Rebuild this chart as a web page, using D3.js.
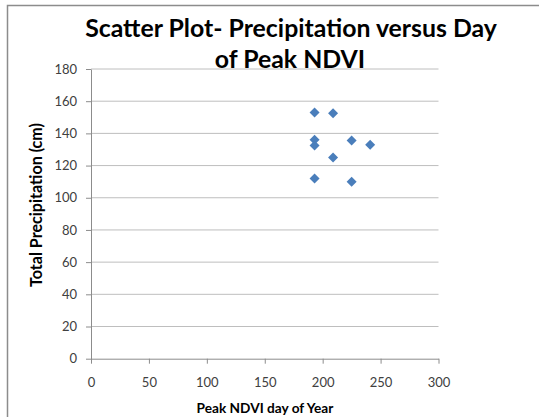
<!DOCTYPE html>
<html>
<head>
<meta charset="utf-8">
<script src="https://cdn.jsdelivr.net/npm/d3@7"></script>
<style>
  body { margin: 0; background: #fff; }
  svg { display: block; }
</style>
</head>
<body>
<div class="chart"></div>
<script>
// peak NDVI day (16-day composites) vs total precipitation
var peakDay = [193, 209, 193, 193, 225, 241, 209, 193, 225];
var precip = [153, 152.5, 136, 132.5, 135.5, 133, 125, 112, 110];

var xTicks = [0, 50, 100, 150, 200, 250, 300];
var yTicks = [0, 20, 40, 60, 80, 100, 120, 140, 160, 180];

var titleLines = ["Scatter Plot- Precipitation versus Day", "of Peak NDVI"];
var xTitle = "Peak NDVI day of Year";
var yTitle = "Total Precipitation (cm)";

var width = 539;
var height = 417;
var font = "Lato, Calibri, 'Open Sans', sans-serif";

var plotLeft = 91, plotRight = 438.5, plotTop = 69, plotBottom = 358.7;

var svg = d3.select(".chart").append("svg")
	.attr("width", width)
	.attr("height", height);

// outer chart frame (only top and left show in the crop)
svg.append("path")
	.attr("d", "M7.5," + height + "V5.5H" + width)
	.attr("fill", "none")
	.attr("stroke", "#8c8c8c")
	.attr("stroke-width", 1.5);

var x = d3.scaleLinear().domain([0, 300]).range([plotLeft, plotRight]);
var y = d3.scaleLinear().domain([0, 180]).range([plotBottom, plotTop]);

// horizontal gridlines
svg.append("g")
	.selectAll("line")
	.data(yTicks.slice(1))
	.enter().append("line")
	.attr("x1", plotLeft)
	.attr("x2", plotRight)
	.attr("y1", function(d) { return y(d); })
	.attr("y2", function(d) { return y(d); })
	.attr("stroke", "#bebebe")
	.attr("stroke-width", 1);

var yAxis = svg.append("g")
	.attr("transform", "translate(" + plotLeft + ",0)")
	.call(d3.axisLeft(y).tickValues(yTicks).tickSizeInner(5).tickSizeOuter(0).tickPadding(9));

var xAxis = svg.append("g")
	.attr("transform", "translate(0," + plotBottom + ")")
	.call(d3.axisBottom(x).tickValues(xTicks).tickSizeInner(5).tickSizeOuter(0).tickPadding(14));

[xAxis, yAxis].forEach(function(ax) {
	ax.select(".domain").attr("stroke", "#8c8c8c").attr("stroke-width", 1);
	ax.selectAll(".tick line").attr("stroke", "#8c8c8c");
	ax.selectAll(".tick text")
		.attr("font-family", font)
		.attr("font-size", 13)
		.attr("fill", "#404040");
});

// markers
var diamond = d3.symbol().type(d3.symbolSquare).size(50);
svg.append("g")
	.selectAll("path")
	.data(peakDay)
	.enter().append("path")
	.attr("d", diamond)
	.attr("transform", function(d, i) {
		return "translate(" + x(d) + "," + y(precip[i]) + ") rotate(45)";
	})
	.attr("fill", "#4a7ebb");

// shrink/grow a text so it spans the width
function fitText(sel, target) {
	var w = sel.node().getComputedTextLength();
	var fs = parseFloat(sel.attr("font-size"));
	sel.attr("font-size", fs * target / w);
}

var t1 = svg.append("text")
	.attr("x", 291).attr("y", 37)
	.attr("text-anchor", "middle")
	.attr("font-family", font)
	.attr("font-weight", "bold")
	.attr("font-size", 24)
	.attr("fill", "#000")
	.text(titleLines[0]);
fitText(t1, 412);

var t2 = svg.append("text")
	.attr("x", 290).attr("y", 68)
	.attr("text-anchor", "middle")
	.attr("font-family", font)
	.attr("font-weight", "bold")
	.attr("font-size", t1.attr("font-size"))
	.attr("fill", "#000")
	.text(titleLines[1]);

var xt = svg.append("text")
	.attr("x", 265).attr("y", 413)
	.attr("text-anchor", "middle")
	.attr("font-family", font)
	.attr("font-weight", "bold")
	.attr("font-size", 13)
	.attr("fill", "#000")
	.text(xTitle);
fitText(xt, 137);

var yt = svg.append("text")
	.attr("transform", "translate(42,205) rotate(-90)")
	.attr("text-anchor", "middle")
	.attr("font-family", font)
	.attr("font-weight", "bold")
	.attr("font-size", 13)
	.attr("fill", "#000")
	.text(yTitle);
fitText(yt, 164);
</script>
</body>
</html>
